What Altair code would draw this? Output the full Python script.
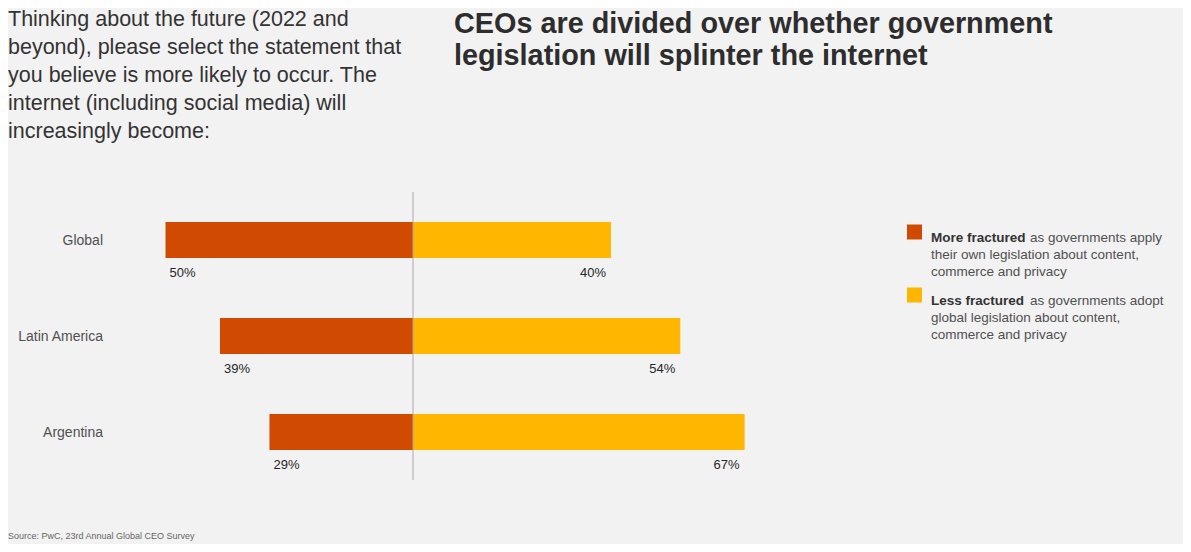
import altair as alt
import pandas as pd

categories = ["Global", "Latin America", "Argentina"]
more_fractured = [50, 39, 29]
less_fractured = [40, 54, 67]
series_names = ["More fractured", "Less fractured"]
series_colors = ["#d04a02", "#ffb600"]

subtitle_lines = [
    "Thinking about the future (2022 and",
    "beyond), please select the statement that",
    "you believe is more likely to occur. The",
    "internet (including social media) will",
    "increasingly become:",
]
title_lines = [
    "CEOs are divided over whether government",
    "legislation will splinter the internet",
]
legend_bold = ["More fractured", "Less fractured"]
legend_rest_first = ["as governments apply", "as governments adopt"]
legend_rest_lines = [
    ["their own legislation about content,", "commerce and privacy"],
    ["global legislation about content,", "commerce and privacy"],
]
source_text = "Source: PwC, 23rd Annual Global CEO Survey"

rows = []
for c, m, l in zip(categories, more_fractured, less_fractured):
    rows.append(dict(category=c, series=series_names[0], x0=-m, x1=0, label=f"{m}%"))
    rows.append(dict(category=c, series=series_names[1], x0=0, x1=l, label=f"{l}%"))
df = pd.DataFrame(rows)

W, H = 1175, 536
FONT = "Liberation Sans"
PX = 4.95
xs = alt.Scale(domain=[-405 / PX, (W - 405) / PX], range=[0, W], zero=False, nice=False)
ys = alt.Scale(domain=categories, range=[166, 490], paddingInner=0.625, paddingOuter=0.5)

base = alt.Chart(df)

bars = base.mark_bar().encode(
    x=alt.X("x0:Q", scale=xs, axis=None),
    x2="x1:Q",
    y=alt.Y("category:N", scale=ys, axis=None, sort=categories),
    color=alt.Color("series:N", scale=alt.Scale(domain=series_names, range=series_colors), legend=None),
)

rule = alt.Chart(pd.DataFrame({"x": [0]})).mark_rule(color="#a8a8a8", strokeWidth=1).encode(
    x=alt.X("x:Q", scale=xs, axis=None),
    y=alt.value(184),
    y2=alt.value(472),
)

cat_labels = alt.Chart(pd.DataFrame({"category": categories})).mark_text(
    align="right", baseline="middle", font=FONT, fontSize=14, color="#505050", dy=1
).encode(
    x=alt.value(95),
    y=alt.Y("category:N", scale=ys, axis=None, sort=categories),
    text="category:N",
)

left_labels = base.transform_filter(alt.datum.series == series_names[0]).mark_text(
    align="left", baseline="alphabetic", dx=4, dy=37, font=FONT, fontSize=13, color="#262626"
).encode(
    x=alt.X("x0:Q", scale=xs, axis=None),
    y=alt.Y("category:N", scale=ys, axis=None, sort=categories),
    text="label:N",
)

right_labels = base.transform_filter(alt.datum.series == series_names[1]).mark_text(
    align="right", baseline="alphabetic", dx=-5, dy=37, font=FONT, fontSize=13, color="#262626"
).encode(
    x=alt.X("x1:Q", scale=xs, axis=None),
    y=alt.Y("category:N", scale=ys, axis=None, sort=categories),
    text="label:N",
)

one = pd.DataFrame({"a": [0]})

subtitle = alt.Chart(one).mark_text(
    text=subtitle_lines, align="left", baseline="alphabetic", font=FONT, fontSize=21.5,
    lineHeight=28, color="#333333"
).encode(x=alt.value(0), y=alt.value(18))

title = alt.Chart(one).mark_text(
    text=title_lines, align="left", baseline="alphabetic", font=FONT, fontSize=28.8,
    fontWeight="bold", lineHeight=32, color="#2d2d2d"
).encode(x=alt.value(446), y=alt.value(25))

source = alt.Chart(one).mark_text(
    text=source_text, align="left", baseline="alphabetic", font=FONT, fontSize=9, color="#666666"
).encode(x=alt.value(0), y=alt.value(531))

legend_layers = []
tops = [234, 297]
for i in range(2):
    yb = tops[i]
    legend_layers.append(
        alt.Chart(one).mark_square(size=225, color=series_colors[i], opacity=1, filled=True).encode(
            x=alt.value(906.5), y=alt.value(yb - 10)
        )
    )
    legend_layers.append(
        alt.Chart(one).mark_text(
            text=legend_bold[i], align="left", baseline="alphabetic", font=FONT, fontSize=13.5,
            fontWeight="bold", color="#333333"
        ).encode(x=alt.value(923), y=alt.value(yb))
    )
    legend_layers.append(
        alt.Chart(one).mark_text(
            text=legend_rest_first[i], align="left", baseline="alphabetic", font=FONT, fontSize=13.5,
            color="#505050"
        ).encode(x=alt.value(1022), y=alt.value(yb))
    )
    legend_layers.append(
        alt.Chart(one).mark_text(
            text=legend_rest_lines[i], align="left", baseline="alphabetic", font=FONT, fontSize=13.5,
            lineHeight=17, color="#505050"
        ).encode(x=alt.value(923), y=alt.value(yb + 17))
    )

chart = alt.layer(
    bars, rule, cat_labels, left_labels, right_labels, subtitle, title, source, *legend_layers
).properties(
    width=W, height=H, autosize=alt.AutoSizeParams(type="none"), padding=0
).configure(
    background="#f2f2f2"
).configure_view(stroke=None)

chart.save("out.html", embed_options={"renderer": "svg", "actions": False})
